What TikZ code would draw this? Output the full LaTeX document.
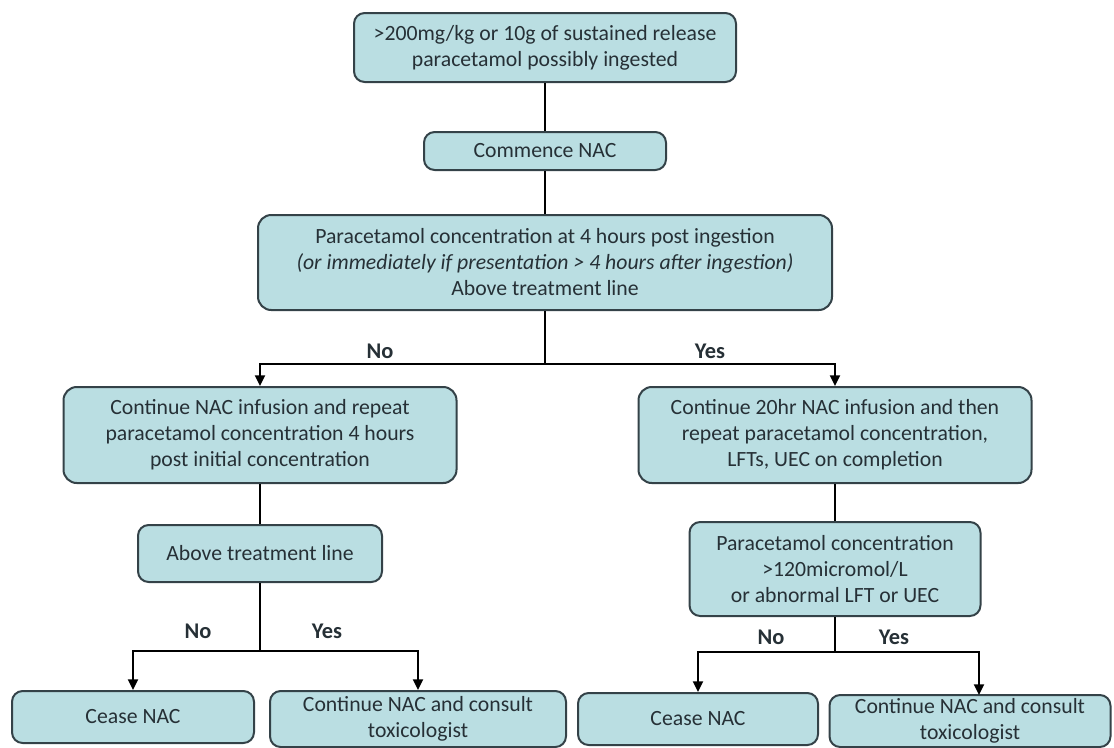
\documentclass[tikz,border=0pt]{standalone}
\usepackage{fontspec}
\setmainfont{Carlito}
\usetikzlibrary{arrows.meta}
\definecolor{boxfill}{RGB}{186,222,226}
\definecolor{boxline}{RGB}{52,66,72}
\definecolor{txt}{RGB}{38,48,54}
\begin{document}
\begin{tikzpicture}[x=0.75pt,y=-0.75pt,
  box/.style={draw=boxline,fill=boxfill,line width=1.5pt,rounded corners=8pt,
    inner sep=0pt,align=center,text=txt,font=\fontsize{16.3}{19.5}\selectfont},
  lab/.style={font=\fontsize{16.8}{19.5}\selectfont\bfseries,text=txt,inner sep=1pt},
  conn/.style={line width=1.5pt,black},
  arr/.style={conn,-{Triangle[width=7.5pt,length=8pt]}}]
\useasboundingbox[fill=white] (0,0) rectangle (1114,747);

\node[box,minimum width=286.5pt,minimum height=51.75pt] (top) at (545,47.5)
  {>200mg/kg or 10g of sustained release\\paracetamol possibly ingested};
\node[box,minimum width=181.5pt,minimum height=28.5pt] (nac) at (545,151)
  {Commence NAC};
\node[box,rounded corners=10pt,minimum width=430.5pt,minimum height=71.25pt] (big) at (545,262.5)
  {Paracetamol concentration at 4 hours post ingestion\\
   \textit{(or immediately if presentation > 4 hours after ingestion)}\\
   Above treatment line};
\node[box,rounded corners=10pt,minimum width=294.75pt,minimum height=72pt] (lc) at (260,435)
  {Continue NAC infusion and repeat\\paracetamol concentration 4 hours\\post initial concentration};
\node[box,rounded corners=10pt,minimum width=294.75pt,minimum height=72pt] (rc) at (835,435)
  {Continue 20hr NAC infusion and then\\repeat paracetamol concentration,\\LFTs, UEC on completion};
\node[box,minimum width=183pt,minimum height=42.75pt] (abv) at (260,553.5)
  {Above treatment line};
\node[box,minimum width=218.25pt,minimum height=70.5pt] (pc) at (835,569)
  {Paracetamol concentration\\>120micromol/L\\or abnormal LFT or UEC};
\node[box,minimum width=181.5pt,minimum height=39pt] (cl) at (133,717)
  {Cease NAC};
\node[box,minimum width=222pt,minimum height=42pt] (tl) at (418,719)
  {Continue NAC and consult\\toxicologist};
\node[box,minimum width=180pt,minimum height=39pt] (cr) at (698,719)
  {Cease NAC};
\node[box,minimum width=210.75pt,minimum height=39pt] (tr) at (970,721)
  {Continue NAC and consult\\toxicologist};

\coordinate (j1) at (545,364);
\coordinate (j2) at (260,651);
\coordinate (j3) at (835,652);
\coordinate (tra) at (979,695);

\node[lab] (no1) at (380,351) {No};
\node[lab] (yes1) at (710,351) {Yes};
\node[lab] (no2) at (198,631) {No};
\node[lab] (yes2) at (327,631) {Yes};
\node[lab] (no3) at (771,637) {No};
\node[lab] (yes3) at (894,637) {Yes};

\draw[conn] (top.south) -- (nac.north);
\draw[conn] (nac.south) -- (big.north);
\draw[conn] (big.south) -- (j1);
\draw[arr] (j1) -| (lc.north);
\draw[arr] (j1) -| (rc.north);
\draw[conn] (lc.south) -- (abv.north);
\draw[conn] (abv.south) -- (j2);
\draw[arr] (j2) -| (cl.north);
\draw[arr] (j2) -| (tl.north);
\draw[conn] (rc.south) -- (pc.north);
\draw[conn] (pc.south) -- (j3);
\draw[arr] (j3) -| (cr.north);
\draw[arr] (j3) -| (tra);
\end{tikzpicture}
\end{document}
